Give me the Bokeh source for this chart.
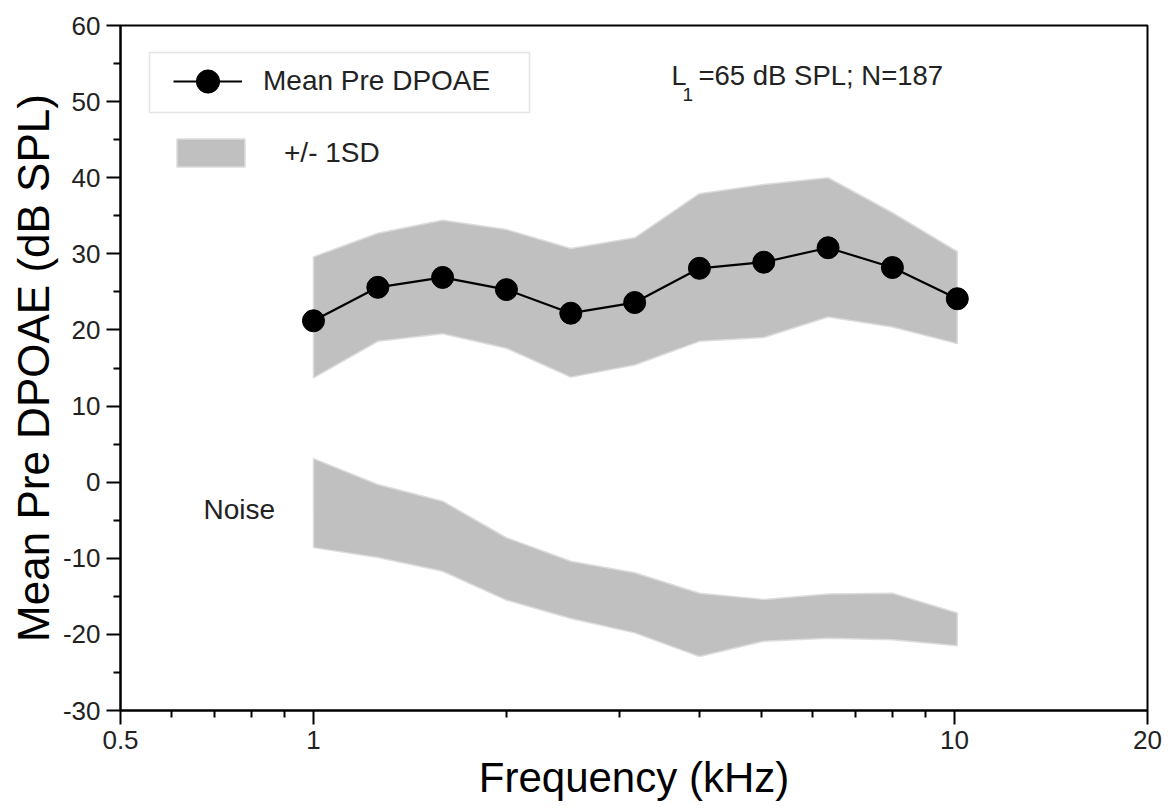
from bokeh.plotting import figure
from bokeh.models import (Range1d, FixedTicker, NumeralTickFormatter, Legend, LegendItem,
                          Label, BoxAnnotation, CustomJSTickFormatter)
from bokeh.embed import file_html
from bokeh.resources import INLINE

# ---- data ----
freq_khz = [1.0, 1.26, 1.59, 2.0, 2.52, 3.17, 4.0, 5.04, 6.35, 8.0, 10.1]
mean_dpoae = [21.2, 25.6, 26.9, 25.3, 22.2, 23.6, 28.1, 28.9, 30.8, 28.2, 24.1]
dpoae_upper = [29.6, 32.7, 34.4, 33.2, 30.7, 32.1, 37.9, 39.1, 40.0, 35.4, 30.3]
dpoae_lower = [13.7, 18.5, 19.5, 17.6, 13.8, 15.4, 18.5, 19.0, 21.7, 20.4, 18.2]
noise_upper = [3.1, -0.3, -2.5, -7.3, -10.4, -11.9, -14.6, -15.4, -14.7, -14.6, -17.2]
noise_lower = [-8.6, -9.9, -11.7, -15.5, -17.9, -19.8, -22.9, -20.9, -20.5, -20.7, -21.5]

x_major_ticks = [0.5, 1, 10, 20]
x_minor_ticks = [0.6, 0.7, 0.8, 0.9, 2, 3, 4, 5, 6, 7, 8, 9]
y_major_ticks = list(range(-30, 61, 10))
y_minor_ticks = list(range(-25, 60, 10))

FONT = "Liberation Sans"
BAND_FILL = "#c0c0c0"
BAND_EDGE = "#dcdcdc"

p = figure(width=1169, height=808, x_axis_type="log",
           x_range=Range1d(0.5, 20), y_range=Range1d(-30, 60),
           output_backend="svg", toolbar_location=None,
           min_border_left=120, min_border_right=22, min_border_top=25, min_border_bottom=98)

p.xgrid.grid_line_color = None
p.ygrid.grid_line_color = None
p.outline_line_color = "black"
p.outline_line_width = 2
p.background_fill_color = "white"
p.border_fill_color = "white"

# bands
band_x = freq_khz + freq_khz[::-1]
sd_r = p.patch(band_x, dpoae_upper + dpoae_lower[::-1], fill_color=BAND_FILL,
               line_color=BAND_EDGE, line_width=1.5)
p.patch(band_x, noise_upper + noise_lower[::-1], fill_color=BAND_FILL,
        line_color=BAND_EDGE, line_width=1.5)

# mean line
line_r = p.line(freq_khz, mean_dpoae, line_color="black", line_width=2.2)
circ_r = p.scatter(freq_khz, mean_dpoae, size=22, marker="circle",
                   fill_color="black", line_color="black")

# axes
for ax in (p.xaxis[0], p.yaxis[0]):
    ax.axis_line_width = 2
    ax.axis_line_color = "black"
    ax.major_tick_line_width = 2
    ax.minor_tick_line_width = 2
    ax.major_tick_in = 0
    ax.major_tick_out = 14
    ax.minor_tick_in = 0
    ax.minor_tick_out = 7
    ax.major_label_text_font = FONT
    ax.major_label_text_font_size = "26px"
    ax.major_label_text_color = "#222222"
    ax.major_label_standoff = 6
    ax.axis_label_text_font = FONT
    ax.axis_label_text_font_style = "normal"
    ax.axis_label_text_color = "black"

p.xaxis.axis_label_text_font_size = "42px"
p.yaxis.axis_label_text_font_size = "44px"
p.xaxis.ticker = FixedTicker(ticks=x_major_ticks, minor_ticks=x_minor_ticks)
p.xaxis.formatter = NumeralTickFormatter(format="0.[0]")
p.yaxis.ticker = FixedTicker(ticks=y_major_ticks, minor_ticks=y_minor_ticks)
p.yaxis.formatter = CustomJSTickFormatter(code="return tick.toString();")
p.xaxis.axis_label = "Frequency (kHz)"
p.yaxis.axis_label = "Mean Pre DPOAE (dB SPL)"
p.xaxis.axis_label_standoff = 2
p.yaxis.axis_label_standoff = 2

# legend
leg1 = Legend(items=[LegendItem(label="Mean Pre DPOAE", renderers=[line_r, circ_r])],
              location=(53, 600), padding=0, margin=0, glyph_width=69, glyph_height=58,
              label_standoff=21, label_text_font=FONT, label_text_font_size="28px",
              label_text_color="#222222", border_line_color=None, background_fill_alpha=0)
leg2 = Legend(items=[LegendItem(label="+/- 1SD", renderers=[sd_r])],
              location=(48, 540), padding=0, margin=0, glyph_width=85, glyph_height=35,
              label_standoff=31, label_text_font=FONT, label_text_font_size="28px",
              label_text_color="#222222", border_line_color=None, background_fill_alpha=0)
p.add_layout(leg1, "center")
p.add_layout(leg2, "center")
p.add_layout(BoxAnnotation(left=29, right=409, bottom=598, top=658,
                           left_units="screen", right_units="screen",
                           top_units="screen", bottom_units="screen",
                           fill_alpha=0, line_color="#aaaaaa", line_width=1.5))

# annotations
p.add_layout(Label(x=551, y=620, x_units="screen", y_units="screen", text="L",
                   text_font=FONT, text_font_size="27px", text_color="#222222"))
p.add_layout(Label(x=562, y=610, x_units="screen", y_units="screen", text="1",
                   text_font=FONT, text_font_size="19px", text_color="#222222"))
p.add_layout(Label(x=578, y=620, x_units="screen", y_units="screen", text="=65 dB SPL; N=187",
                   text_font=FONT, text_font_size="27.5px", text_color="#222222"))
p.add_layout(Label(x=83, y=201, x_units="screen", y_units="screen", text="Noise",
                   text_baseline="middle",
                   text_font=FONT, text_font_size="28px", text_color="#222222"))

open("out.html", "w").write(file_html(p, INLINE))
